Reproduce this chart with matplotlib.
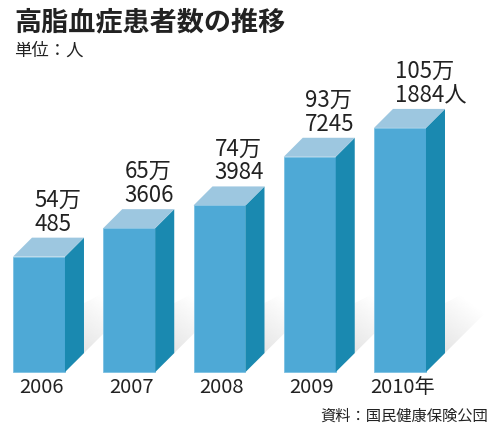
import matplotlib.pyplot as plt
from matplotlib.patches import Polygon, Rectangle
import numpy as np

plt.rcParams['font.family'] = ['Noto Sans CJK JP', 'DejaVu Sans']

years = ['2006', '2007', '2008', '2009', '2010年']
patients = [540485, 653606, 743984, 937245, 1051884]
upper_lbl = ['54万', '65万', '74万', '93万', '105万']
lower_lbl = ['485', '3606', '3984', '7245', '1884人']

title = '高脂血症患者数の推移'
unit = '単位：人'
source = '資料：国民健康保険公団'

front_c = '#4ea9d6'
side_c = '#1a89b0'
top_c = '#9dc7e0'
txt_c = '#222222'

W, H = 500, 434
fig = plt.figure(figsize=(W / 100, H / 100), dpi=100)
ax = fig.add_axes([0, 0, 1, 1])
ax.set_xlim(-0.432, 5.108)
floor = 82000
ax.set_ylim(-164000, 1560000)
ax.axis('off')

# depth of the fake 3d box, in data units (19 px both ways)
px_x = (5.108 + 0.432) / W
px_y = (1560000 + 164000) / H
dx = 19 * px_x
dy = 19 * px_y
bw = 0.576

for i, v in enumerate(patients):
    L = i - bw / 2
    R = i + bw / 2
    # shadow behind the bar, fading up-right
    sx0, sy0 = R + dx, floor + dy
    shadow = Polygon([(sx0 - 0.5 * dx, sy0 - 0.5 * dy), (sx0 + 48 * px_x, sy0 + 48 * px_y),
                      (sx0 + 40 * px_x, sy0 + 70 * px_y), (sx0, sy0 + 50 * px_y)],
                     closed=True, facecolor='none', edgecolor='none')
    ax.add_patch(shadow)
    gx, gy = np.meshgrid(np.linspace(0, 1, 80), np.linspace(0, 1, 80))
    fade = np.clip(0.5 * gx + 0.9 * gy, 0, 1)
    grad = 0.85 + 0.15 * fade
    im = ax.imshow(grad, cmap='gray', vmin=0, vmax=1, origin='lower',
                   extent=(sx0 - dx, sx0 + 50 * px_x, sy0 - dy, sy0 + 75 * px_y),
                   aspect='auto', zorder=1, interpolation='bilinear')
    im.set_clip_path(shadow)

    ax.add_patch(Rectangle((L, floor), bw, v - floor, facecolor=front_c,
                           edgecolor='#7cc0e2', lw=0.6, zorder=3))
    ax.add_patch(Polygon([(R, floor), (R, v), (R + dx, v + dy), (R + dx, floor + dy)],
                         closed=True, facecolor=side_c, edgecolor='none', zorder=3))
    ax.add_patch(Polygon([(L, v), (L + dx, v + dy), (R + dx, v + dy), (R, v)],
                         closed=True, facecolor=top_c, edgecolor='none', zorder=3))

    ax.annotate(lower_lbl[i], (L + dx, v + dy), xytext=(1.5, 5), textcoords='offset points',
                ha='left', va='baseline', fontsize=16, color=txt_c)
    ax.annotate(upper_lbl[i], (L + dx, v + dy), xytext=(1.5, 22.3), textcoords='offset points',
                ha='left', va='baseline', fontsize=16, color=txt_c)
    ax.annotate(years[i], (i, floor), xytext=(1.5, -11), textcoords='offset points',
                ha='center', va='center', fontsize=14.5, color=txt_c)

fig.text(14 / W, 1 - 22 / H, title, fontsize=19.5, fontweight='bold', color=txt_c,
         ha='left', va='center')
fig.text(14 / W, 1 - 51 / H, unit, fontsize=12.5, color=txt_c, ha='left', va='center')
fig.text(488 / W, 1 - 416 / H, source, fontsize=11, color=txt_c, ha='right', va='center')

fig.savefig('out.png', dpi=100)
